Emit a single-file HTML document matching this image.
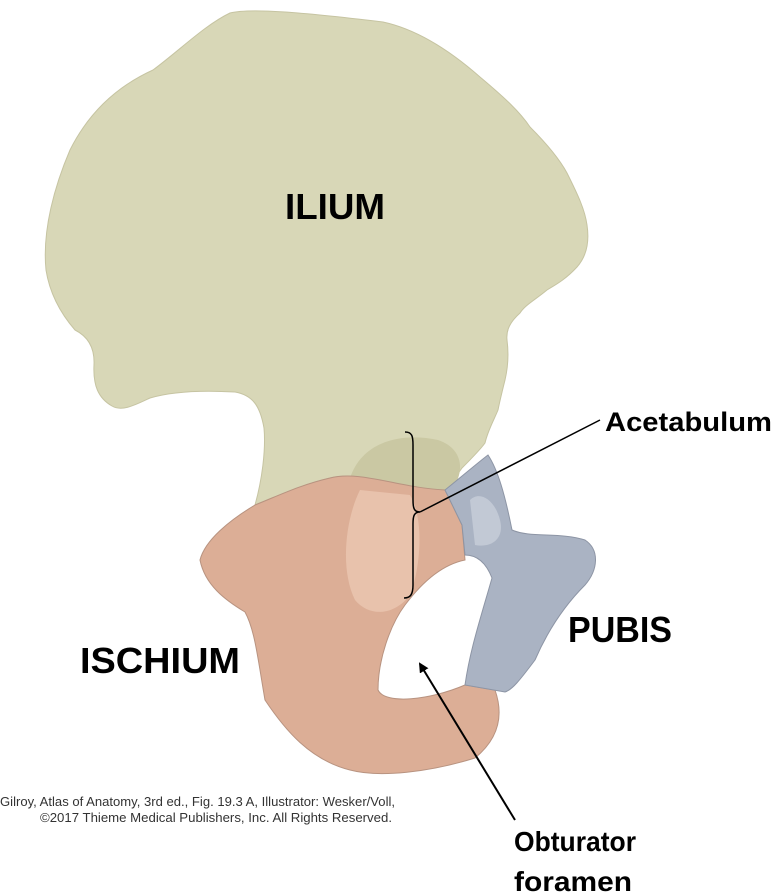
<!DOCTYPE html>
<html><head><meta charset="utf-8"><style>
html,body{margin:0;padding:0;background:#fff;}
svg{display:block;}
text{font-family:"Liberation Sans",Arial,sans-serif;}
.lbl{font-weight:bold;fill:#000;}
</style></head><body>
<svg width="776" height="896" viewBox="0 0 776 896" xmlns="http://www.w3.org/2000/svg">
<defs>
<marker id="ah" markerWidth="10" markerHeight="10" refX="8" refY="5" orient="auto" markerUnits="userSpaceOnUse">
<path d="M0,0 L10,5 L0,10 z" fill="#000"/></marker>
</defs>
<!-- ilium -->
<path d="M255,505 C262,480 266,450 264,428 C260,405 252,395 235,392 C200,390 170,392 150,398 C135,405 122,412 112,406 C98,398 93,385 94,365 C95,345 85,335 75,330 C62,315 50,295 46,270 C42,230 55,185 70,150 C90,110 120,85 153,70 C180,50 205,25 230,13 C250,8 300,12 383,22 C420,30 455,55 480,77 C505,98 520,112 530,127 C548,145 560,160 567,173 C578,195 585,210 587,225 C590,245 585,258 577,267 C565,280 555,285 547,290 C535,300 525,305 520,313 C510,322 506,330 507,340 C509,355 508,367 505,380 C502,392 500,400 498,410 C494,420 488,430 485,443 C480,450 470,460 462,468 C455,478 450,484 445,490 C400,488 360,470 330,478 C300,485 280,495 255,505 Z" fill="#d8d7b7" stroke="#c6c4a2" stroke-width="1"/>
<!-- acetabulum lunate inner (darker) -->
<path d="M350,478 C362,442 400,432 438,440 C462,448 466,470 452,490 C420,492 380,490 350,478 Z" fill="#cac8a3"/>
<!-- ischium -->
<path d="M255,505 C280,495 300,485 330,478 C360,470 400,488 445,490 L462,525 L465,560 C440,565 420,585 405,605 C390,625 378,660 378,690 C385,705 430,700 465,685 L495,690 C502,710 503,735 475,758 C430,772 380,778 350,770 C310,760 285,730 265,700 C258,660 255,630 245,612 C225,600 205,585 200,560 C205,540 230,520 255,505 Z" fill="#dcae96" stroke="#b89380" stroke-width="1"/>
<!-- acetabulum pink hollow -->
<path d="M360,490 C345,520 340,570 355,600 C370,618 395,615 410,595 C420,570 425,520 410,495 Z" fill="#e8c2ac"/>
<!-- pubis -->
<path d="M445,490 C460,478 475,465 488,455 C498,470 505,495 512,530 C530,538 560,532 585,540 C600,550 598,570 585,585 C565,605 548,630 535,660 C520,680 512,690 505,692 L465,685 C470,650 480,620 492,578 C485,560 475,555 465,555 L462,525 Z" fill="#aab3c3" stroke="#8d95a5" stroke-width="1"/>
<path d="M470,500 C480,490 495,500 500,520 C505,540 490,548 475,545 Z" fill="#c2c9d5"/>
<!-- bracket -->
<path d="M405,432 C412,432 413,436 413,445 L413,500 C413,508 414,512 420,512 C414,512 413,516 413,524 L413,585 C413,595 410,598 404,598" fill="none" stroke="#000" stroke-width="1.5"/>
<line x1="420" y1="512" x2="600" y2="420" stroke="#000" stroke-width="1.5"/>
<line x1="515" y1="820" x2="420" y2="664" stroke="#000" stroke-width="2" marker-end="url(#ah)"/>
<text class="lbl" x="285" y="219" font-size="36" textLength="100" lengthAdjust="spacingAndGlyphs">ILIUM</text>
<text class="lbl" x="605" y="431" font-size="27" textLength="167" lengthAdjust="spacingAndGlyphs">Acetabulum</text>
<text class="lbl" x="568" y="642" font-size="36" textLength="104" lengthAdjust="spacingAndGlyphs">PUBIS</text>
<text class="lbl" x="80" y="673" font-size="36" textLength="160" lengthAdjust="spacingAndGlyphs">ISCHIUM</text>
<text class="lbl" x="514" y="851" font-size="28" textLength="122" lengthAdjust="spacingAndGlyphs">Obturator</text>
<text class="lbl" x="514" y="891" font-size="28" textLength="118" lengthAdjust="spacingAndGlyphs">foramen</text>
<text x="0" y="806" font-size="13" fill="#333" textLength="395" lengthAdjust="spacingAndGlyphs">Gilroy, Atlas of Anatomy, 3rd ed., Fig. 19.3 A, Illustrator: Wesker/Voll,</text>
<text x="40" y="822" font-size="13" fill="#333" textLength="352" lengthAdjust="spacingAndGlyphs">©2017 Thieme Medical Publishers, Inc. All Rights Reserved.</text>
</svg>
</body></html>
